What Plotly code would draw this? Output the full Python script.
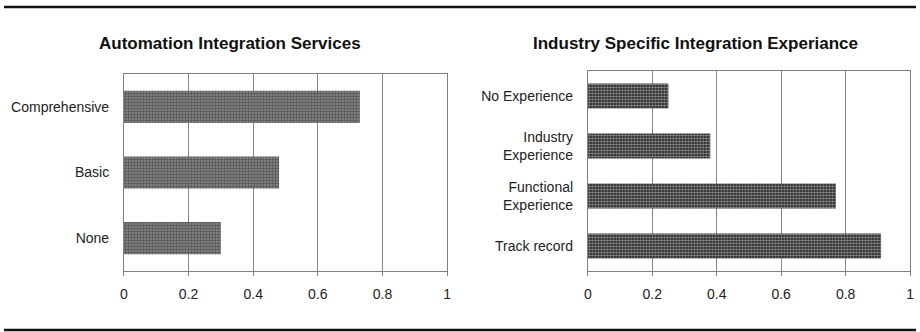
import plotly.graph_objects as go

# Data
left_title = "Automation Integration Services"
left_categories = ["None", "Basic", "Comprehensive"]
left_values = [0.30, 0.48, 0.73]

right_title = "Industry Specific Integration Experiance"
right_categories = ["Track record", "Functional<br>Experience", "Industry<br>Experience", "No Experience"]
right_values = [0.91, 0.77, 0.38, 0.25]

x_ticks = [0, 0.2, 0.4, 0.6, 0.8, 1]
x_ticktext = ["0", "0.2", "0.4", "0.6", "0.8", "1"]

W, H = 920, 332
FONT = "Liberation Sans, Arial, sans-serif"

fig = go.Figure()
fig.add_trace(go.Bar(
    x=left_values, y=left_categories, orientation="h", width=0.49,
    marker=dict(color="#5e5e5e", line=dict(width=0),
                pattern=dict(shape="+", fgcolor="#333333", bgcolor="#7e7e7e", size=3, solidity=0.45)),
    xaxis="x", yaxis="y", showlegend=False, hoverinfo="x+y"))
fig.add_trace(go.Bar(
    x=right_values, y=right_categories, orientation="h", width=0.5,
    marker=dict(color="#111111", line=dict(width=0),
                pattern=dict(shape=".", fgcolor="#ffffff", bgcolor="#151515", size=3, solidity=0.55)),
    xaxis="x2", yaxis="y2", showlegend=False, hoverinfo="x+y"))

axis_common = dict(range=[0, 1], tickvals=x_ticks, ticktext=x_ticktext,
                   showgrid=True, gridcolor="#858585", gridwidth=1,
                   showline=True, linecolor="#808080", linewidth=1, mirror=True,
                   ticks="outside", ticklen=4, tickcolor="#808080", ticklabelstandoff=6,
                   tickfont=dict(family=FONT, size=14, color="#222"), zeroline=False,
                   fixedrange=True)
yaxis_common = dict(showline=True, linecolor="#808080", linewidth=1, mirror=True,
                    ticks="", showgrid=False, ticklabelstandoff=11,
                    tickfont=dict(family=FONT, size=14, color="#222"), fixedrange=True)

fig.update_layout(
    width=W, height=H, margin=dict(l=0, r=0, t=0, b=0),
    paper_bgcolor="white", plot_bgcolor="white", bargap=0.5,
    xaxis=dict(domain=[121 / W, 447 / W], anchor="y", **axis_common),
    yaxis=dict(domain=[(H - 271) / H, (H - 74) / H], anchor="x",
               categoryorder="array", categoryarray=left_categories, **yaxis_common),
    xaxis2=dict(domain=[589 / W, 914 / W], anchor="y2", **axis_common),
    yaxis2=dict(domain=[(H - 271) / H, (H - 71) / H], anchor="x2",
                categoryorder="array", categoryarray=right_categories, **yaxis_common),
    annotations=[
        dict(text="<b>" + left_title + "</b>", x=228 / W, y=(H - 44) / H, xref="paper", yref="paper",
             showarrow=False, xanchor="center", yanchor="middle",
             font=dict(family=FONT, size=17, color="#111")),
        dict(text="<b>" + right_title + "</b>", x=698 / W, y=(H - 44) / H, xref="paper", yref="paper",
             showarrow=False, xanchor="center", yanchor="middle",
             font=dict(family=FONT, size=17, color="#111")),
    ],
    shapes=[
        dict(type="line", xref="paper", yref="paper", x0=0, x1=1, y0=(H - 7) / H, y1=(H - 7) / H,
             line=dict(color="#111", width=2.5)),
        dict(type="line", xref="paper", yref="paper", x0=0, x1=1, y0=(H - 330) / H, y1=(H - 330) / H,
             line=dict(color="#111", width=2.5)),
    ],
)

fig.write_html("out.html")
